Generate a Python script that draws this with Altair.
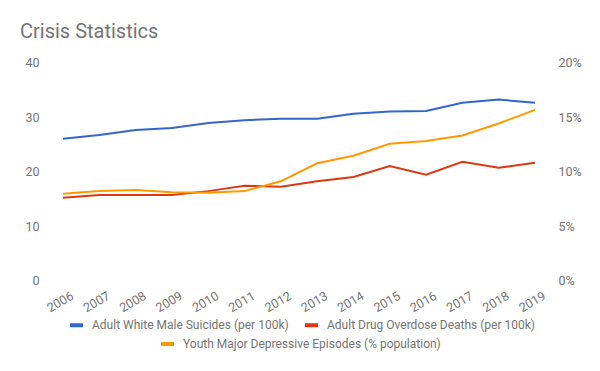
import altair as alt
import pandas as pd

years = [str(y) for y in range(2006, 2020)]
suicides = [26.0, 26.7, 27.6, 28.0, 28.9, 29.4, 29.7, 29.7, 30.6, 31.0, 31.1, 32.6, 33.2, 32.6]
overdose = [15.2, 15.7, 15.7, 15.7, 16.4, 17.4, 17.2, 18.2, 19.0, 21.0, 19.4, 21.8, 20.7, 21.6]
depressive_pct = [7.95, 8.2, 8.3, 8.1, 8.05, 8.2, 9.1, 10.75, 11.45, 12.55, 12.8, 13.3, 14.4, 15.65]

s1 = "Adult White Male Suicides (per 100k)"
s2 = "Adult Drug Overdose Deaths (per 100k)"
s3 = "Youth Major Depressive Episodes (% population)"

left_df = pd.DataFrame(
    [{"year": y, "series": s1, "value": v} for y, v in zip(years, suicides)]
    + [{"year": y, "series": s2, "value": v} for y, v in zip(years, overdose)]
)
right_df = pd.DataFrame(
    [{"year": y, "series": s3, "value": v / 100} for y, v in zip(years, depressive_pct)]
)

FONT = "Roboto"
GRAY = "#757575"
LEG = 12

x_enc = alt.X(
    "year:O",
    scale=alt.Scale(type="point", padding=0),
    axis=alt.Axis(
        title=None, labelAngle=-30, labelAlign="right", labelBaseline="middle",
        labelPadding=14, labelOffset=9, ticks=False, domain=False, grid=False,
        labelFontSize=12.5, labelColor=GRAY, labelFont=FONT,
    ),
)

left = alt.Chart(left_df).mark_line(strokeWidth=2).encode(
    x=x_enc,
    y=alt.Y(
        "value:Q",
        scale=alt.Scale(domain=[0, 40]),
        axis=alt.Axis(
            title=None, orient="left", values=[0, 10, 20, 30, 40], ticks=False,
            domain=False, grid=False, labelPadding=24, labelFontSize=12.5,
            labelColor=GRAY, labelFont=FONT,
        ),
    ),
    color=alt.Color(
        "series:N",
        scale=alt.Scale(domain=[s1, s2], range=["#3366cc", "#dc3912"]),
        legend=alt.Legend(
            title=None, orient="none", direction="horizontal", legendX=5, legendY=254,
            symbolType="stroke", symbolStrokeWidth=4, symbolSize=169,
            labelFontSize=LEG, labelColor=GRAY, labelFont=FONT, labelLimit=400,
            columnPadding=8, labelOffset=7, padding=0,
        ),
    ),
)

right = alt.Chart(right_df).mark_line(strokeWidth=2).encode(
    x=x_enc,
    y=alt.Y(
        "value:Q",
        scale=alt.Scale(domain=[0, 0.2]),
        axis=alt.Axis(
            title=None, orient="right", values=[0, 0.05, 0.1, 0.15, 0.2], format=".0%",
            ticks=False, domain=False, grid=False, labelPadding=23,
            labelFontSize=12.5, labelColor=GRAY, labelFont=FONT,
        ),
    ),
    color=alt.Color(
        "series:N",
        scale=alt.Scale(domain=[s3], range=["#ff9900"]),
        legend=alt.Legend(
            title=None, orient="none", direction="horizontal", legendX=96, legendY=273,
            symbolType="stroke", symbolStrokeWidth=4, symbolSize=169,
            labelFontSize=LEG, labelColor=GRAY, labelFont=FONT, labelLimit=400,
            labelOffset=7, padding=0,
        ),
    ),
)

chart = (
    alt.layer(left, right)
    .resolve_scale(y="independent", color="independent")
    .properties(
        width=472,
        height=218,
        autosize=alt.AutoSizeParams(type="none"),
        padding={"left": 55, "top": 54.5, "right": 57, "bottom": 83},
        title=alt.TitleParams(
            "Crisis Statistics", anchor="start", frame="group", dx=-43, dy=25, offset=24,
            baseline="alphabetic", fontSize=20, font=FONT, color=GRAY,
            fontWeight="normal",
        ),
    )
    .configure_view(stroke=None)
)

chart.save("out.html", embed_options={"renderer": "svg", "actions": False})
